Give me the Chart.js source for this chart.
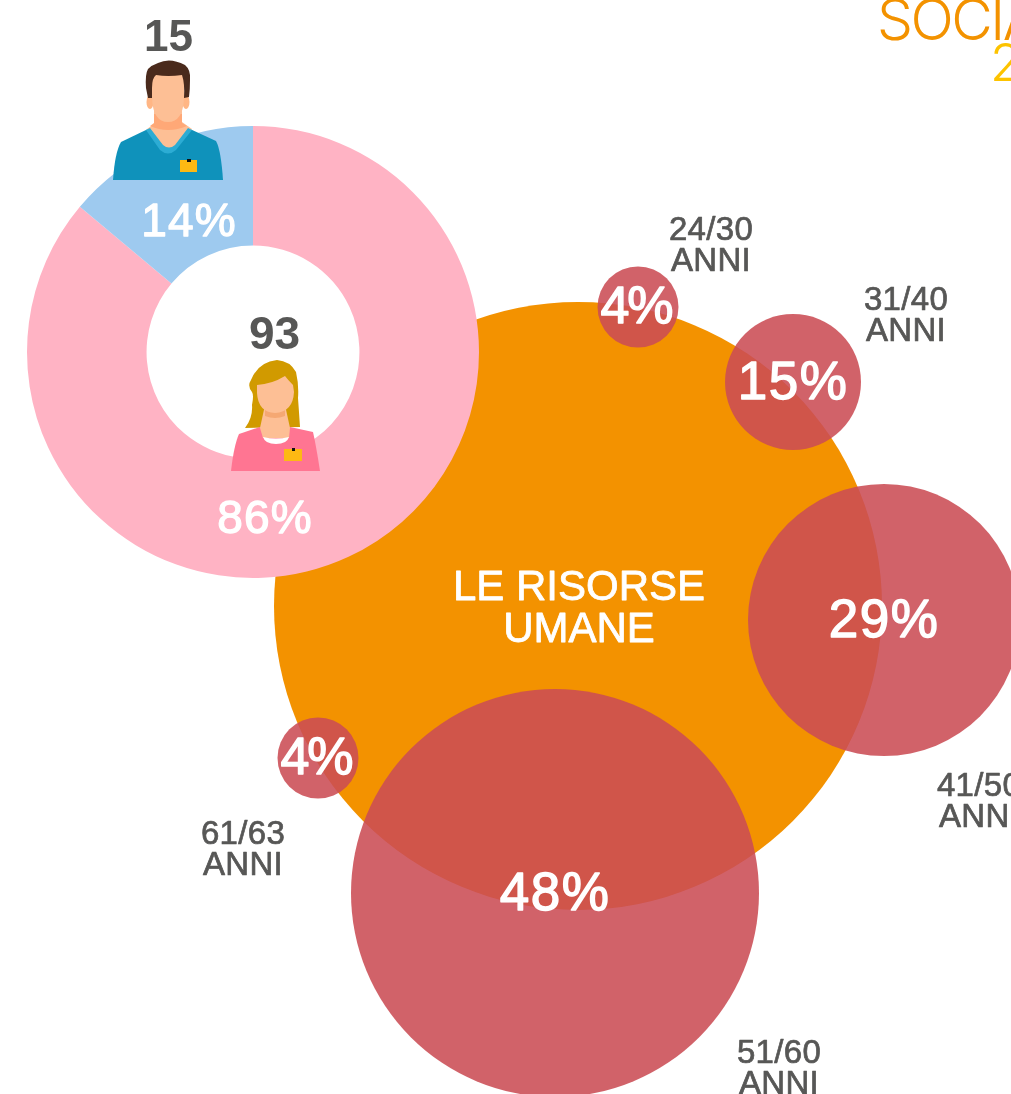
<!doctype html>
<html lang="it">
<head>
    <title>Le risorse umane</title>
    <meta charset="UTF-8" />
    <style>
        html, body { margin: 0; padding: 0; background: #fff; width: 1011px; height: 1094px; overflow: hidden; }
        canvas, svg { position: absolute; left: 0; top: 0; }
    </style>
</head>
<body>
<canvas id="ageChart" width="1011" height="1094"></canvas>
<canvas id="genderChart" width="1011" height="1094"></canvas>
<svg width="1011" height="1094" viewBox="0 0 1011 1094">
    <!-- man -->
    <path fill="#0f92bb" d="M113 180 Q115 152 121 142 L148 129 L190 129 L216 141 Q221 150 223 180 Z"/>
    <path fill="#fdbf95" d="M154 100 H182 V122 L192 129 L169 152 L147 129 L154 124 Z"/>
    <path fill="#ffa877" d="M154 114 H182 V123 L187 126 Q168 134 150 126 L154 123 Z"/>
    <path fill="#2cacd4" d="M146 130 L150 128 L163 145 Q169 150 175 145 L188 128 L192 130 L176 150 Q168 157 160 150 Z"/>
    <ellipse cx="150" cy="102" rx="3.5" ry="7" fill="#ffb685"/>
    <ellipse cx="186" cy="102" rx="3.5" ry="7" fill="#ffb685"/>
    <path fill="#fdbf95" d="M152 72 H184 V98 Q183 122 168 122 Q153 122 152 98 Z"/>
    <path fill="#4a2a1c" d="M146 88 Q145 74 148 69 Q152 65 158 63 Q170 57 185 65 Q191 70 190 80 Q190 90 189 97 L184 98 Q185 84 182 75 Q168 77 156 75 Q152 78 152 88 L152 98 L148 98 Z"/>
    <rect x="180" y="160" width="17" height="12" fill="#fdb913"/>
    <rect x="187" y="159" width="4" height="3" fill="#111"/>
    <!-- woman -->
    <path fill="#d19a00" d="M277 360 Q290 361 296 372 Q299 385 298 398 Q299 412 300 427 L245 428 Q253 418 252 405 Q254 395 252 392 Q247 386 251 380 Q258 362 277 360 Z"/>
    <path fill="#ff7592" d="M231 471 Q234 445 239 434 L260 427 L290 427 L313 432 Q316 445 320 471 Z"/>
    <path fill="#fdbf95" d="M265 405 H285 L290 428 L289 438 L263 438 L260 428 Z"/>
    <path fill="#f5a873" d="M265 405 H285 V416 Q275 420 265 416 Z"/>
    <path fill="#fff" d="M263 437 Q276 440 289 437 Q287 444 276 444 Q265 444 263 437 Z"/>
    <path fill="#fdbf95" d="M257 385 Q272 384 285 376 Q288 380 293 385 L294 392 Q293 412 275 413 Q258 412 257 393 Z"/>
    <rect x="284" y="449" width="18" height="12" fill="#fdb913"/>
    <rect x="292" y="448" width="3" height="3" fill="#111"/>
</svg>
<script src="https://cdn.jsdelivr.net/npm/chart.js"></script>
<script>
    const ageBands = ['24/30', '31/40', '41/50', '51/60', '61/63'];
    const agePercents = [4, 15, 29, 48, 4];
    const bubbleX = [638, 793, 884, 555, 318];
    const bubbleY = [307, 382, 620, 893, 758];
    const bubbleR = [40.5, 68, 136, 204, 40.5];
    const bandLabelX = [711, 906, 979, 779, 243];
    const bandLabelY = [231, 301, 787, 1054, 835];

    const centerBubble = [{x: 578, y: 606, r: 304}];
    const centerTitle = ['LE RISORSE', 'UMANE'];

    const genderLabels = ['Donne', 'Uomini'];
    const genderCounts = [93, 15];
    const genderPercents = ['86%', '14%'];

    const GREY = '#575756';

    function drawText(ctx, text, x, y, size, weight, color, extra, spacing) {
        ctx.save();
        ctx.font = weight + ' ' + size + 'px "Liberation Sans", sans-serif';
        ctx.textAlign = 'center';
        ctx.textBaseline = 'middle';
        ctx.letterSpacing = (spacing || 0) + 'px';
        ctx.fillStyle = color;
        ctx.fillText(text, x, y);
        if (extra) {
            ctx.strokeStyle = color;
            ctx.lineWidth = extra;
            ctx.lineJoin = 'round';
            ctx.strokeText(text, x, y);
        }
        ctx.restore();
    }

    const ageLabels = {
        id: 'ageLabels',
        afterDatasetsDraw(chart) {
            const ctx = chart.ctx;
            const sx = chart.scales.x, sy = chart.scales.y;
            agePercents.forEach(function (p, i) {
                const small = p < 10;
                drawText(ctx, p + '%', sx.getPixelForValue(bubbleX[i]) - (small ? 2 : 0), sy.getPixelForValue(bubbleY[i]) + 2,
                    small ? 52 : 53, 'normal', '#fff', 1.4, small ? -2 : 1.5);
            });
            ageBands.forEach(function (b, i) {
                drawText(ctx, b, bandLabelX[i], bandLabelY[i], 33, 'normal', GREY, 0.7, 0.3);
                drawText(ctx, 'ANNI', bandLabelX[i], bandLabelY[i] + 31, 33, 'normal', GREY, 0.7, 0.3);
            });
            drawText(ctx, centerTitle[0], 579, 588, 42, 'normal', '#fff', 0.8);
            drawText(ctx, centerTitle[1], 579, 630.5, 42, 'normal', '#fff', 0.8);
        }
    };

    new Chart(document.getElementById('ageChart'), {
        type: 'bubble',
        data: {
            labels: ageBands,
            datasets: [{
                label: 'Età',
                data: agePercents.map(function (p, i) {
                    return {x: bubbleX[i], y: bubbleY[i], r: bubbleR[i]};
                }),
                backgroundColor: 'rgba(203,76,84,0.88)',
                borderWidth: 0,
                clip: false
            }, {
                label: 'Le risorse umane',
                data: centerBubble,
                backgroundColor: '#f39200',
                borderWidth: 0,
                clip: false
            }]
        },
        options: {
            responsive: false,
            animation: false,
            layout: {padding: 0, autoPadding: false},
            plugins: {legend: {display: false}, tooltip: {enabled: false}},
            scales: {
                x: {type: 'linear', display: false, min: 0, max: 1011},
                y: {type: 'linear', display: false, min: 0, max: 1094, reverse: true}
            }
        },
        plugins: [ageLabels]
    });

    const genderText = {
        id: 'genderText',
        afterDatasetsDraw(chart) {
            const ctx = chart.ctx;
            drawText(ctx, genderPercents[1], 189, 223, 46, 'normal', '#fff', 1.3, 1.2);
            drawText(ctx, genderPercents[0], 265, 520, 46, 'normal', '#fff', 1.3, 1.2);
            drawText(ctx, String(genderCounts[1]), 168.5, 39, 44, 'bold', GREY);
            drawText(ctx, String(genderCounts[0]), 274.5, 336, 46, 'bold', GREY);

            // header, cut by the page edge like the reference
            ctx.save();
            ctx.textBaseline = 'alphabetic';
            ctx.textAlign = 'left';
            ctx.font = '300 57px Inter, sans-serif';
            ctx.letterSpacing = '-2.5px';
            ctx.fillStyle = '#f39200';
            ctx.fillText('SOCIA', 877, 40);
            ctx.fillStyle = '#fdc300';
            ctx.font = '300 52px Inter, sans-serif';
            ctx.fillText('2', 990, 81);
            ctx.restore();
        }
    };

    new Chart(document.getElementById('genderChart'), {
        type: 'doughnut',
        data: {
            labels: genderLabels,
            datasets: [{
                data: genderCounts,
                backgroundColor: ['#ffb3c4', '#9ecaef'],
                borderWidth: 0
            }]
        },
        options: {
            responsive: false,
            animation: false,
            cutout: '47.1%',
            layout: {padding: {left: 27, top: 126, right: 532, bottom: 516}},
            plugins: {legend: {display: false}, tooltip: {enabled: false}}
        },
        plugins: [genderText]
    });
</script>
</body>
</html>
